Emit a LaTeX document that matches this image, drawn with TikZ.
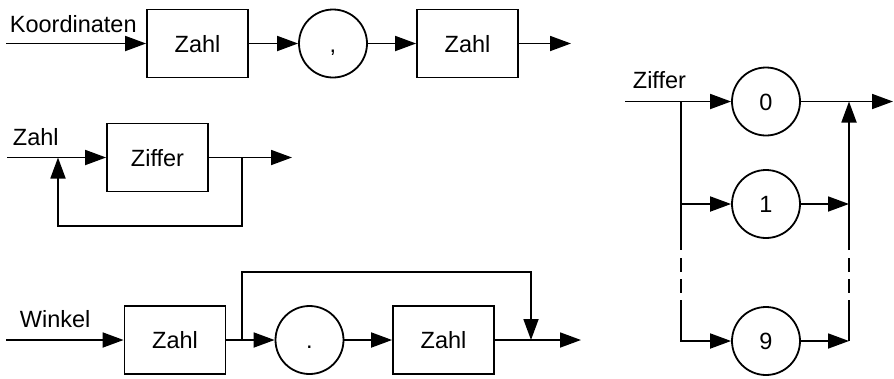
\documentclass[tikz,border=0pt]{standalone}
\usepackage{fontspec}
\setmainfont{Liberation Sans}
\usepackage{tikz}
\usetikzlibrary{arrows.meta,positioning}

\tikzset{
    box/.style={draw,minimum width=101pt,minimum height=68pt,inner sep=0pt,text height=17pt,text depth=0pt},
    kreis/.style={draw,circle,minimum size=68pt,inner sep=0pt,text height=17pt,text depth=0pt},
    lbl/.style={anchor=base west,inner sep=0pt},
    strich/.style={dash pattern=on 0pt off 8pt on 14pt off 7pt on 14pt off 8pt}
}

\begin{document}
\begin{tikzpicture}[x=1pt,y=-1pt,line width=1.8pt,font=\fontsize{23.5}{28}\selectfont,>={Triangle[length=21pt,width=15pt]}]
    \useasboundingbox (0,0) rectangle (894,378);

    \node[box] (zahlA) at (197.5,43.5) {Zahl};
    \node[kreis] (komma) at (333,43.5) {,};
    \node[box] (zahlB) at (467.5,43.5) {Zahl};
    \coordinate (kIn) at (6,43.5);
    \coordinate (kOut) at (571,43.5);
    \node[lbl] (kLbl) at (9,32) {Koordinaten};
    \draw[->] (kIn) -- (zahlA);
    \draw[->] (zahlA) -- (komma);
    \draw[->] (komma) -- (zahlB);
    \draw[->] (zahlB) -- (kOut);

    \node[box] (ziffer) at (157.5,157.5) {Ziffer};
    \coordinate (zIn) at (7,157.5);
    \coordinate (zOut) at (292,157.5);
    \coordinate (zR) at (242,157.5);
    \coordinate (zLu) at (58,226);
    \coordinate (zL) at (58,157.5);
    \node[lbl] (zLbl) at (12,145) {Zahl};
    \draw[->] (zIn) -- (ziffer);
    \draw[->] (ziffer) -- (zOut);
    \draw[->] (zR) |- (zLu) -- (zL);

    \node[box] (zahlC) at (175,340) {Zahl};
    \node[kreis] (punkt) at (309.5,340) {.};
    \node[box] (zahlD) at (443.5,340) {Zahl};
    \coordinate (wIn) at (6,340);
    \coordinate (wAb) at (242,340);
    \coordinate (wOben) at (531,272);
    \coordinate (wZu) at (531,340);
    \coordinate (wOut) at (581,340);
    \node[lbl] (wLbl) at (19,327) {Winkel};
    \draw[->] (wIn) -- (zahlC);
    \draw[->] (zahlC) -- (punkt);
    \draw[->] (punkt) -- (zahlD);
    \draw[->] (zahlD) -- (wOut);
    \draw[->] (wAb) |- (wOben) -- (wZu);

    \node[kreis] (null) at (766,101.5) {0};
    \node[kreis] (eins) at (766,204) {1};
    \node[kreis] (neun) at (766,341) {9};
    \coordinate (zfIn) at (625,101.5);
    \coordinate (zfL) at (681,101.5);
    \coordinate (zfL1) at (681,204);
    \coordinate (zfLa) at (681,250);
    \coordinate (zfLb) at (681,300);
    \coordinate (zfR) at (849,101.5);
    \coordinate (zfR1) at (849,204);
    \coordinate (zfRa) at (849,250);
    \coordinate (zfRb) at (849,300);
    \coordinate (zfR9) at (849,341);
    \coordinate (zfOut) at (893,101.5);
    \node[lbl] (zfLbl) at (632,88) {Ziffer};
    \draw[->] (zfIn) -- (null);
    \draw[->] (null) -- (zfOut);
    \draw (zfL) -- (zfLa);
    \draw[strich] (zfLa) -- (zfLb);
    \draw[->] (zfLb) |- (neun);
    \draw[->] (zfL1) -- (eins);
    \draw[->] (eins) -- (zfR1);
    \draw[->] (neun) -- (zfR9);
    \draw (zfR9) -- (zfRb);
    \draw[strich] (zfRa) -- (zfRb);
    \draw[->] (zfRa) -- (zfR);
\end{tikzpicture}
\end{document}
